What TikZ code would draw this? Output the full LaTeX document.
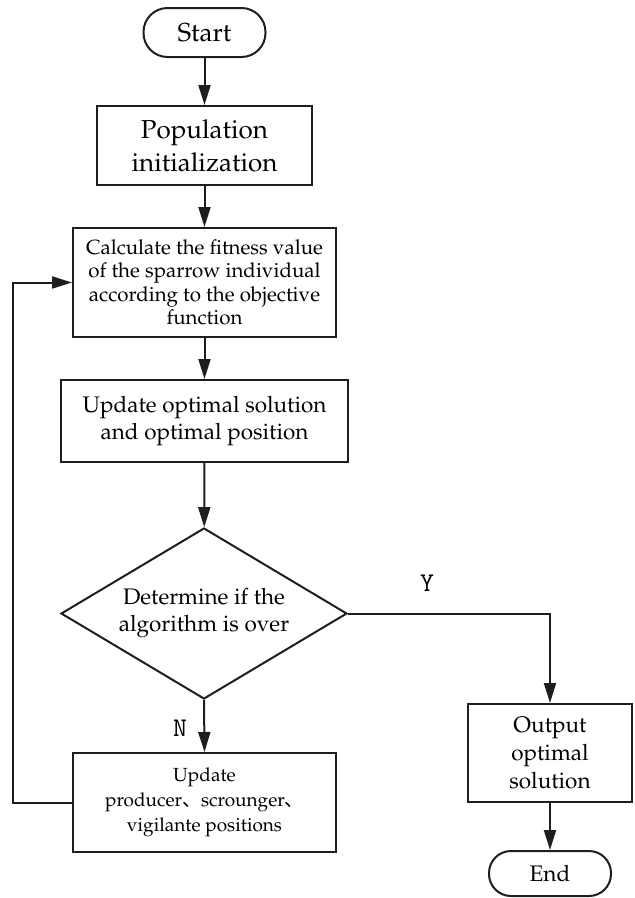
\documentclass[tikz,border=0pt]{standalone}
\usepackage[T1]{fontenc}
\usepackage{fontspec}
\newfontfamily\cjk{Noto Sans CJK SC}
\usetikzlibrary{arrows.meta,shapes.geometric}
\newcommand\palfont{\fontencoding{T1}\fontfamily{ppl}\selectfont}
\newcommand\fsz[2]{\fontsize{#1}{#2}\palfont}
\definecolor{linec}{HTML}{1E1E1E}
\tikzset{
  box/.style={draw=linec, line width=2pt, align=center, inner sep=0pt, text=black},
  arr/.style={draw=linec, line width=2pt, -{Triangle[length=20pt,width=12pt]}},
  yn/.style={inner sep=0pt, font=\fontsize{27}{27}\ttfamily\selectfont}
}
\begin{document}
\begin{tikzpicture}[x=1pt,y=-1pt]
\useasboundingbox (0,0) rectangle (635,898);
\node[box, rounded corners=24pt, minimum width=122pt, minimum height=49pt, font=\fsz{26}{30}] (start) at (204.5,32.5) {Start};
\node[box, minimum width=215pt, minimum height=79pt, font=\fsz{26}{33}] (pop) at (204.5,145.5) {Population\\ initialization};
\node[box, minimum width=263pt, minimum height=109pt, font=\fsz{20.5}{23.5}] (calc) at (204.5,282.5) {Calculate the fitness value\\ of the sparrow individual\\ according to the objective\\ function};
\node[box, minimum width=287pt, minimum height=82pt, font=\fsz{22.5}{27}] (upd1) at (204.5,421) {Update optimal solution\\ and optimal position};
\node[box, shape=diamond, aspect=1.67, minimum width=286pt, minimum height=171pt, font=\fsz{22.5}{27}] (dec) at (204,613.5) {Determine if the\\ algorithm is over};
\node[box, minimum width=263pt, minimum height=99pt, font=\fsz{19}{25}] (upd2) at (204.5,802.5) {Update\\ producer{\cjk 、}scrounger{\cjk 、}\\ vigilante positions};
\node[box, minimum width=164pt, minimum height=98pt, font=\fsz{22.5}{28}] (out) at (550,753) {Output\\ optimal\\ solution};
\node[box, rounded corners=22pt, minimum width=122pt, minimum height=45pt, font=\fsz{22.5}{26}] (end) at (550,873.5) {End};
\node[yn] (ylab) at (427,583) {Y};
\node[yn] (nlab) at (180,728) {N};
\draw[arr] (start) -- (pop);
\draw[arr] (pop) -- (calc);
\draw[arr] (calc) -- (upd1);
\draw[arr] (upd1) -- (dec);
\draw[arr] (dec.east) -| (out.north);
\draw[arr] (dec.south) -- (upd2.north);
\draw[arr] (out) -- (end);
\draw[arr] (upd2.west) -- ++(-59,0) |- (calc.west);
\end{tikzpicture}
\end{document}
